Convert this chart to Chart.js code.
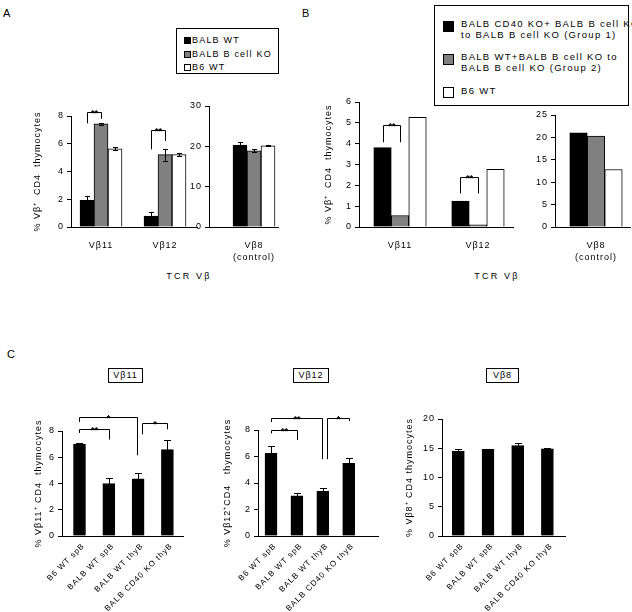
<!DOCTYPE html>
<html><head><meta charset="utf-8"><title>TCR Vβ CD4 thymocytes</title>
<script src="https://cdn.jsdelivr.net/npm/chart.js@4.4.1/dist/chart.umd.min.js"></script>
<style>
html,body{margin:0;padding:0;background:#fff;}
body{width:632px;height:612px;position:relative;overflow:hidden;font-family:"Liberation Sans",Arial,sans-serif;color:#000;}
canvas{position:absolute;}
.t{position:absolute;white-space:nowrap;letter-spacing:1.2px;font-size:9px;line-height:9px;}
.pl{position:absolute;font-size:11px;line-height:11px;}
.box{position:absolute;border:1px solid #000;background:transparent;}
.sq{position:absolute;border:1px solid #000;}
.lb{position:absolute;white-space:nowrap;font-size:9.5px;line-height:11px;letter-spacing:1.3px;}
.ttl{position:absolute;border:1px solid #000;font-size:9px;letter-spacing:1px;text-align:center;line-height:13px;height:13px;}
</style></head>
<body>
<div class="pl" style="left:3px;top:8px;">A</div>
<div class="pl" style="left:302px;top:8px;">B</div>
<div class="pl" style="left:7px;top:349px;">C</div>

<!-- legend A -->
<div class="box" style="left:176px;top:28px;width:101px;height:44px;"></div>
<div id="legA"></div>
<!-- legend B -->
<div class="box" style="left:434px;top:5px;width:193px;height:99px;"></div>
<div id="legB"></div>

<div class="t" style="left:189px;top:272px;transform:translateX(-50%);letter-spacing:2.2px;">TCR Vβ</div>
<div class="t" style="left:497px;top:272px;transform:translateX(-50%);letter-spacing:2.2px;">TCR Vβ</div>

<div class="ttl" style="left:108px;top:368px;width:33px;">Vβ11</div>
<div class="ttl" style="left:293px;top:368px;width:34px;">Vβ12</div>
<div class="ttl" style="left:486px;top:368px;width:31px;">Vβ8</div>

<script>
// ---------------- data ----------------
const catsVb = ['Vβ11', 'Vβ12'];
const catsCtrl = [['Vβ8', '(control)']];
const seriesA = ['BALB WT', 'BALB B cell KO', 'B6 WT'];
const seriesB = [['BALB CD40 KO+ BALB B cell KO', 'to BALB B cell KO (Group 1)'],
                 ['BALB WT+BALB B cell KO to', 'BALB B cell KO (Group 2)'],
                 ['B6 WT']];
const seriesColors = ['#000000', '#808080', '#ffffff'];

// Panel A, Vβ11 / Vβ12
const aBalbWT = [1.92, 0.79];      const aBalbWTErr = [0.28, 0.26];
const aBcellKO = [7.43, 5.22];     const aBcellKOErr = [0.1, 0.43];
const aB6WT = [5.63, 5.22];        const aB6WTErr = [0.1, 0.08];
// Panel A, Vβ8 control
const aCtrlBalbWT = [20.3];        const aCtrlBalbWTErr = [0.7];
const aCtrlBcellKO = [18.9];       const aCtrlBcellKOErr = [0.4];
const aCtrlB6WT = [20.15];         const aCtrlB6WTErr = [0.15];
// Panel B
const bGroup1 = [3.81, 1.24];
const bGroup2 = [0.55, 0.11];
const bB6WT = [5.26, 2.77];
const bCtrlGroup1 = [21.0];
const bCtrlGroup2 = [20.3];
const bCtrlB6WT = [12.84];
// Panel C
const catsC = ['B6 WT spB', 'BALB WT spB', 'BALB WT thyB', 'BALB CD40 KO thyB'];
const cVb11 = [7.0, 4.0, 4.35, 6.58];     const cVb11Err = [0.11, 0.45, 0.45, 0.71];
const cVb12 = [6.24, 3.03, 3.38, 5.48];   const cVb12Err = [0.57, 0.23, 0.21, 0.42];
const cVb8 = [14.48, 14.83, 15.45, 14.89]; const cVb8Err = [0.42, 0.07, 0.5, 0.17];

// Significance brackets: [datasetIndex, dataIndex] endpoints, heights in data units
const brA = [
  {a:[0,0], b:[1,0], top:8.27, la:7.47, lb:7.8, text:'**'},
  {a:[0,1], b:[1,1], top:7.02, la:5.6, lb:6.2, text:'**'}
];
const brB = [
  {a:[0,0], b:[1,0], top:4.89, la:4.07, lb:4.07, text:'**'},
  {a:[0,1], b:[1,1], top:2.41, la:1.61, lb:1.61, text:'**'}
];
const brC11 = [
  {a:[0,0], b:[0,1], top:8.15, la:7.85, lb:7.35, text:'**'},
  {a:[0,0], b:[0,2], top:9.07, la:8.69, lb:6.15, text:'*'},
  {a:[0,2], b:[0,3], top:8.61, la:7.75, lb:8.13, text:'*'}
];
const brC12 = [
  {a:[0,0], b:[0,1], top:8.0, la:7.75, lb:7.25, text:'**'},
  {a:[0,0], b:[0,2], top:8.93, la:8.6, lb:5.8, text:'**'},
  {a:[0,2], b:[0,3], top:8.93, la:5.8, lb:8.68, text:'*'}
];

// ---------------- legends (HTML) ----------------
(function(){
  const la = document.getElementById('legA');
  const rowsA = [40.7, 54.3, 67];
  seriesA.forEach((s,i)=>{
    const q = document.createElement('div'); q.className='sq';
    q.style.cssText += `left:184px;top:${(rowsA[i]-3.5).toFixed(1)}px;width:5px;height:5px;background:${seriesColors[i]};`;
    la.appendChild(q);
    const t = document.createElement('div'); t.className='t';
    t.style.cssText += `left:192px;top:${(rowsA[i]-4.4).toFixed(1)}px;`;
    t.textContent = s; la.appendChild(t);
  });
  const lb = document.getElementById('legB');
  const sqB = [21, 53.5, 87]; const txB = [17.8, 51.1, 85.1];
  seriesB.forEach((s,i)=>{
    const q = document.createElement('div'); q.className='sq';
    q.style.cssText += `left:443px;top:${sqB[i]}px;width:9px;height:9px;background:${seriesColors[i]};`;
    lb.appendChild(q);
    const t = document.createElement('div'); t.className='lb';
    t.style.cssText += `left:461px;top:${txB[i]}px;`;
    t.innerHTML = s.join('<br>'); lb.appendChild(t);
  });
})();

// ---------------- chart helpers ----------------
const FS = 9;
Chart.defaults.font.family = '"Liberation Sans", Arial, sans-serif';
Chart.defaults.font.size = FS;
Chart.defaults.color = '#000';
Chart.register({id:'spacing',
  beforeUpdate(ch){ ch.ctx.letterSpacing = '1px'; },
  beforeDraw(ch){ ch.ctx.letterSpacing = '1px'; }
});

function errPlugin(cap){
  return {id:'err', afterDatasetsDraw(chart){
    const ctx = chart.ctx, y = chart.scales.y;
    chart.data.datasets.forEach((ds,di)=>{
      if(!ds.errors) return;
      chart.getDatasetMeta(di).data.forEach((bar,i)=>{
        const e = ds.errors[i]; if(!e) return;
        const v = ds.data[i].y;
        const yt = Math.round(y.getPixelForValue(v+e))+0.5, yb = Math.round(y.getPixelForValue(v-e))+0.5;
        const x = Math.round(bar.x)+0.5;
        ctx.save(); ctx.strokeStyle='#000'; ctx.lineWidth=1; ctx.beginPath();
        ctx.moveTo(x,yt); ctx.lineTo(x,yb);
        ctx.moveTo(x-cap,yt); ctx.lineTo(x+cap,yt);
        ctx.moveTo(x-cap,yb); ctx.lineTo(x+cap,yb);
        ctx.stroke(); ctx.restore();
      });
    });
  }};
}
function bracketPlugin(items){
  return {id:'br', afterDraw(chart){
    if(!items) return;
    const ctx = chart.ctx, y = chart.scales.y;
    const isRightEnd = (p)=> items.some(o=>o.b[0]===p[0]&&o.b[1]===p[1]);
    const isLeftEnd = (p)=> items.some(o=>o.a[0]===p[0]&&o.a[1]===p[1]);
    items.forEach(o=>{
      let xa = chart.getDatasetMeta(o.a[0]).data[o.a[1]].x;
      let xb = chart.getDatasetMeta(o.b[0]).data[o.b[1]].x;
      if(isRightEnd(o.a)) xa += 4;
      if(isLeftEnd(o.b) && o.b[0]===0 && items.length>2) xb -= 1;
      xa = Math.round(xa)+0.5; xb = Math.round(xb)+0.5;
      const yt = Math.round(y.getPixelForValue(o.top))+0.5;
      ctx.save(); ctx.strokeStyle='#000'; ctx.lineWidth=1; ctx.beginPath();
      ctx.moveTo(xa, y.getPixelForValue(o.la)); ctx.lineTo(xa, yt); ctx.lineTo(xb, yt); ctx.lineTo(xb, y.getPixelForValue(o.lb));
      ctx.stroke();
      ctx.fillStyle='#000'; ctx.font='bold 9px "Liberation Sans", Arial'; ctx.letterSpacing='0px';
      ctx.textAlign='center'; ctx.textBaseline='alphabetic';
      ctx.fillText(o.text, (xa+xb)/2, yt+3);
      ctx.restore();
    });
  }};
}

const PL = 48, PR = 30, PT = 30;
function mk(c){
  const PB = c.rot ? 90 : 42;
  const W = c.right - c.left + PL + PR;
  const H = c.bottom - c.top + PT + PB;
  const cv = document.createElement('canvas');
  cv.width = W; cv.height = H;
  cv.style.left = (c.left-PL)+'px'; cv.style.top = (c.top-PT)+'px';
  cv.style.width = W+'px'; cv.style.height = H+'px';
  document.body.appendChild(cv);
  const lh = FS*1.2;
  const xfs = c.rot ? 8 : FS;
  return new Chart(cv.getContext('2d'), {
    type:'bar',
    data:{datasets: c.series.map((s,k)=>({
      label: s.name,
      data: s.values.map((v,i)=>({x:i, y:v})),
      errors: s.errors,
      backgroundColor: s.color, borderColor:'#000', borderWidth:1, borderSkipped:'start',
      barThickness: c.thick
    }))},
    options:{
      responsive:false, animation:false, devicePixelRatio:1,
      layout:{padding:{left:0, right:PR, top:PT, bottom:0}},
      plugins:{legend:{display:false}, tooltip:{enabled:false}, title:{display:false}},
      scales:{
        x:{type:'linear', min:c.xmin, max:c.xmax, offset:false, bounds:'data',
           grid:{display:false, drawTicks:false, tickLength:0}, border:{display:true, color:'#000', width:1},
           afterBuildTicks: s => { s.ticks = c.labels.map((l,i)=>({value:i})); },
           afterFit: s => { s.height = PB; },
           ticks:{autoSkip:false, maxRotation:c.rot||0, minRotation:c.rot||0, padding:c.rot?5:12.5,
                  labelOffset:c.rot?4:0,
                  color:'#000', font:{size:xfs, lineHeight:1.3},
                  callback: v => c.labels[Math.round(v)]}
        },
        y:{min:0, max:c.ymax,
           ticks:{stepSize:c.ystep, color:'#000', font:{size:FS}, padding:3},
           grid:{display:true, drawOnChartArea:false, drawTicks:true, tickLength:4, color:'#000'},
           border:{display:true, color:'#000', width:1},
           title:{display:!!c.yTitle, text:c.yTitle||'', color:'#000', font:{size:FS, lineHeight:1.2},
                  padding:{top: Math.max(0, PL - (c.tdist||30) - lh/2), bottom:0}},
           afterFit: s => { s.width = PL; }
        }
      }
    },
    plugins:[errPlugin(c.cap), bracketPlugin(c.brackets)]
  });
}

// ---------------- charts ----------------
mk({left:71, top:116, bottom:227, right:197, xmin:-0.469, xmax:1.5, ymax:8, ystep:2,
    labels:catsVb, thick:14, cap:2.5, yTitle:'% Vβ⁺  CD4  thymocytes', tdist:33, brackets:brA,
    series:[{name:seriesA[0], values:aBalbWT, errors:aBalbWTErr, color:seriesColors[0]},
            {name:seriesA[1], values:aBcellKO, errors:aBcellKOErr, color:seriesColors[1]},
            {name:seriesA[2], values:aB6WT, errors:aB6WTErr, color:seriesColors[2]}]});
mk({left:209, top:106, bottom:227, right:278, xmin:-0.9, xmax:0.48, ymax:30, ystep:10,
    labels:catsCtrl, thick:14, cap:2.5,
    series:[{name:seriesA[0], values:aCtrlBalbWT, errors:aCtrlBalbWTErr, color:seriesColors[0]},
            {name:seriesA[1], values:aCtrlBcellKO, errors:aCtrlBcellKOErr, color:seriesColors[1]},
            {name:seriesA[2], values:aCtrlB6WT, errors:aCtrlB6WTErr, color:seriesColors[2]}]});
mk({left:359, top:102, bottom:227, right:513, xmin:-0.526, xmax:1.449, ymax:6, ystep:1,
    labels:catsVb, thick:17.5, cap:2.5, yTitle:'% Vβ⁺  CD4  thymocytes', tdist:30, brackets:brB,
    series:[{name:seriesB[0].join(' '), values:bGroup1, color:seriesColors[0]},
            {name:seriesB[1].join(' '), values:bGroup2, color:seriesColors[1]},
            {name:seriesB[2].join(' '), values:bB6WT, color:seriesColors[2]}]});
mk({left:555, top:115, bottom:227, right:630, xmin:-0.82, xmax:0.68, ymax:25, ystep:5,
    labels:catsCtrl, thick:17.5, cap:2.5,
    series:[{name:seriesB[0].join(' '), values:bCtrlGroup1, color:seriesColors[0]},
            {name:seriesB[1].join(' '), values:bCtrlGroup2, color:seriesColors[1]},
            {name:seriesB[2].join(' '), values:bCtrlB6WT, color:seriesColors[2]}]});
mk({left:62, top:431, bottom:536, right:183, xmin:-0.597, xmax:3.532, ymax:8, ystep:2,
    labels:catsC, thick:12, cap:3.5, rot:45, yTitle:'% Vβ11⁺ CD4  thymocytes', tdist:23.5, brackets:brC11,
    series:[{name:'Vβ11', values:cVb11, errors:cVb11Err, color:'#000'}]});
mk({left:258, top:430, bottom:536, right:378, xmin:-0.502, xmax:4.131, ymax:8, ystep:2,
    labels:catsC, thick:12, cap:3.5, rot:45, yTitle:'% Vβ12⁺CD4   thymocytes', tdist:30.8, brackets:brC12,
    series:[{name:'Vβ12', values:cVb12, errors:cVb12Err, color:'#000'}]});
mk({left:442, top:419, bottom:536, right:565, xmin:-0.549, xmax:3.593, ymax:20, ystep:5,
    labels:catsC, thick:12, cap:3.5, rot:45, yTitle:'% Vβ8⁺ CD4 thymocytes', tdist:32.8,
    series:[{name:'Vβ8', values:cVb8, errors:cVb8Err, color:'#000'}]});
</script>
</body></html>
